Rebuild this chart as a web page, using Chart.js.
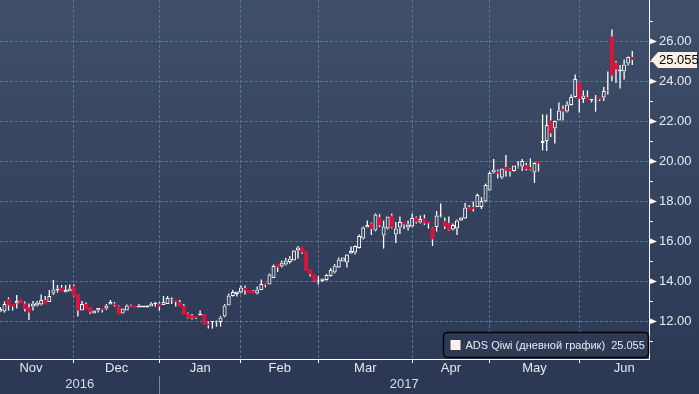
<!DOCTYPE html>
<html lang="ru">
<head>
<meta charset="UTF-8">
<title>ADS Qiwi</title>
<script src="https://cdn.jsdelivr.net/npm/chart.js"></script>
<style>
  html, body { margin: 0; padding: 0; }
  body { width: 699px; height: 394px; overflow: hidden; background: linear-gradient(#3f4e69, #2c3853); }
  canvas { display: block; }
</style>
</head>
<body>
<canvas id="chart" width="699" height="394"></canvas>
<script>
const seriesName = 'ADS Qiwi (дневной график)';

// daily OHLC, Nov 2016 - Jun 2017, one entry per trading day
const openPx = [
  12.48, 12.48, 13.10, 12.85, 12.87, 13.08, 12.88, 12.67, 12.72, 12.78, 12.82, 13.05, 12.95, 13.38, 13.55, 13.67, 13.42, 13.47,
  13.75, 13.35, 12.52, 12.85, 12.70, 12.38, 12.52, 12.65, 12.62, 12.82, 12.88, 12.75, 12.38, 12.53, 12.77, 12.77, 12.67, 12.67, 12.67, 12.73, 12.85,
  12.87, 12.80, 12.85, 13.07, 13.05, 12.95, 12.78, 12.38, 12.28, 12.25, 12.27, 12.35, 11.88, 11.95, 11.92, 11.95, 12.22, 12.78, 13.25, 13.35,
  13.42, 13.65, 13.55, 13.50, 13.38, 13.55, 13.92, 13.82, 14.15, 14.85, 14.72, 14.82, 14.95, 15.02, 15.52, 15.68, 15.50, 14.58, 14.33,
  13.98, 14.00, 14.05, 14.25, 14.43, 14.68, 14.97, 14.92, 15.37, 15.42, 15.65, 16.12, 16.67, 16.88, 16.52, 17.20, 16.28, 16.62, 17.28, 16.33, 16.67, 16.95, 16.67,
  16.72, 17.18, 16.92, 17.13, 16.98, 16.68, 16.70, 17.22, 17.00, 16.90, 16.57, 16.63, 17.03, 17.13, 17.70, 17.70, 17.70, 17.70, 17.97,
  18.53, 19.43, 19.47, 19.17, 19.70, 19.60, 19.50, 19.73, 19.73, 19.80, 19.70, 19.43, 20.00, 20.90, 21.00, 22.03, 21.63, 22.03, 22.60, 22.47, 22.80, 23.20,
  23.93, 23.10, 23.20, 23.03, 22.98, 23.20, 23.17, 23.53, 26.23, 24.93, 24.50, 24.47, 24.87, 25.20
];
const highPx = [
  12.70, 12.98, 13.18, 12.85, 13.30, 13.08, 12.97, 12.88, 13.00, 13.00, 13.33, 13.25, 13.55, 14.05, 13.80, 13.80, 13.80, 13.83,
  13.83, 13.35, 13.00, 12.92, 12.70, 12.52, 12.65, 12.65, 12.85, 13.05, 12.95, 12.78, 12.62, 12.82, 12.82, 12.77, 12.85, 12.77, 12.80, 12.95, 12.95,
  12.95, 13.25, 13.25, 13.18, 13.05, 13.05, 12.85, 12.42, 12.35, 12.25, 12.52, 12.35, 11.98, 11.99, 12.02, 12.25, 12.85, 13.38, 13.55, 13.48,
  13.78, 13.78, 13.55, 13.55, 13.72, 14.08, 13.92, 14.38, 14.82, 14.85, 15.02, 15.15, 15.25, 15.55, 15.75, 15.68, 15.50, 14.58, 14.33,
  14.25, 14.13, 14.35, 14.65, 14.85, 15.18, 15.18, 15.35, 15.72, 15.78, 16.32, 16.72, 17.02, 16.92, 17.38, 17.35, 17.02, 17.22, 17.38, 16.95, 17.22, 16.95, 17.02,
  17.38, 17.22, 17.28, 17.32, 16.98, 16.70, 17.50, 17.88, 17.17, 17.23, 16.87, 17.07, 17.20, 17.90, 17.80, 17.97, 18.37, 18.20, 18.87,
  19.47, 20.10, 19.57, 19.63, 20.30, 19.63, 19.77, 20.00, 20.10, 19.90, 20.13, 19.93, 20.00, 22.33, 22.33, 22.63, 22.03, 22.93, 22.77, 22.97, 23.33, 24.33,
  23.93, 23.53, 23.53, 23.10, 23.30, 23.20, 23.70, 24.47, 26.57, 25.00, 24.80, 25.07, 25.23, 25.50
];
const lowPx = [
  12.45, 12.42, 12.52, 12.52, 12.63, 12.88, 12.47, 12.05, 12.52, 12.72, 12.78, 12.82, 12.95, 13.30, 13.42, 13.47, 13.42, 13.47,
  13.22, 12.22, 12.52, 12.58, 12.35, 12.38, 12.42, 12.43, 12.55, 12.82, 12.72, 12.32, 12.38, 12.53, 12.67, 12.67, 12.67, 12.67, 12.67, 12.73, 12.73,
  12.52, 12.80, 12.85, 12.85, 12.72, 12.72, 12.32, 12.12, 12.08, 12.10, 12.27, 11.82, 11.62, 11.62, 11.72, 11.72, 12.18, 12.78, 13.22, 13.22,
  13.38, 13.32, 13.38, 13.37, 13.32, 13.55, 13.68, 13.82, 14.15, 14.45, 14.68, 14.78, 14.88, 15.02, 15.12, 15.35, 14.52, 14.22, 13.95,
  13.82, 13.95, 14.02, 14.22, 14.38, 14.65, 14.97, 14.68, 15.35, 15.32, 15.62, 16.08, 16.67, 16.30, 16.48, 16.70, 15.62, 16.58, 16.62, 15.90, 16.35, 16.60, 16.52,
  16.68, 16.88, 16.88, 16.80, 16.62, 15.75, 16.47, 17.17, 16.60, 16.50, 16.53, 16.30, 17.00, 17.10, 17.53, 17.47, 17.70, 17.60, 17.93,
  18.53, 19.37, 19.13, 19.10, 19.23, 19.23, 19.47, 19.63, 19.50, 19.53, 19.53, 18.90, 19.47, 20.53, 20.50, 21.20, 20.87, 22.03, 22.03, 22.43, 22.77, 23.17,
  22.43, 22.90, 23.03, 22.93, 22.47, 23.00, 23.00, 23.33, 24.00, 23.90, 23.63, 24.07, 24.77, 24.80
];
const closePx = [
  12.60, 12.85, 12.78, 12.72, 13.00, 12.88, 12.60, 12.43, 12.88, 12.92, 13.05, 12.82, 13.25, 13.58, 13.63, 13.47, 13.55, 13.63,
  13.25, 12.52, 12.85, 12.58, 12.42, 12.52, 12.65, 12.55, 12.77, 12.95, 12.78, 12.32, 12.62, 12.77, 12.67, 12.67, 12.77, 12.77, 12.77, 12.87, 12.87,
  12.72, 12.95, 13.15, 13.10, 12.95, 12.72, 12.32, 12.15, 12.12, 12.15, 12.37, 11.82, 11.78, 11.98, 11.95, 12.18, 12.78, 13.28, 13.45, 13.48,
  13.68, 13.52, 13.38, 13.37, 13.58, 13.85, 13.82, 14.32, 14.75, 14.68, 14.92, 15.02, 15.12, 15.52, 15.68, 15.42, 14.52, 14.32, 13.98,
  14.00, 14.13, 14.30, 14.55, 14.77, 15.08, 15.18, 15.32, 15.50, 15.75, 16.25, 16.68, 16.80, 16.60, 17.32, 16.78, 16.72, 17.22, 16.67, 16.63, 16.95, 16.82, 16.82,
  17.15, 16.95, 17.10, 16.88, 16.88, 16.08, 17.27, 17.25, 16.73, 16.53, 16.80, 17.03, 17.17, 17.67, 17.53, 17.60, 18.30, 18.00, 18.80,
  19.40, 19.57, 19.37, 19.63, 19.53, 19.47, 19.77, 19.67, 20.00, 19.60, 19.57, 19.90, 19.87, 21.00, 21.80, 21.37, 22.00, 22.53, 22.47, 22.83, 23.20, 24.10,
  23.10, 23.27, 23.03, 23.10, 22.99, 23.07, 23.50, 23.50, 24.27, 24.57, 24.57, 24.83, 25.20, 25.055
];

// month axis: index of first trading day of each month (Nov / Jun ends run past the view)
const monthLabels = ['Nov', 'Dec', 'Jan', 'Feb', 'Mar', 'Apr', 'May', 'Jun'];
const monthStarts = [-3, 18, 39, 59, 78, 101, 120, 142, 164];
const yearLabels = ['2016', '2017'];
const yearBreak = 39;
const priceTicks = [11, 12, 13, 14, 15, 16, 17, 18, 19, 20, 21, 22, 23, 24, 25, 26, 27];

const xMin = -0.1, xMax = 159.1;
const yMin = 10.1, yMax = 28.05;

const RED = '#dc143c';
const WHITE = '#ffffff';
const GRID = '#58768f';
const FONT = "'Liberation Sans', Arial, sans-serif";

const idx = openPx.map((_, i) => i);
const isUp = i => closePx[i] >= openPx[i];
const lastClose = closePx[closePx.length - 1];

const boundaries = monthStarts.slice(1, -1);
const monthMids = monthLabels.map((_, k) => (monthStarts[k] + monthStarts[k + 1]) / 2);
const xTickVals = boundaries.concat(monthMids).sort((a, b) => a - b);
const yearMids = [(xMin + yearBreak) / 2, (yearBreak + xMax) / 2];

const bodies = idx.map(i => ({ x: i, y: [openPx[i], closePx[i]] }));
const upperWicks = idx.map(i => ({ x: i, y: [Math.max(openPx[i], closePx[i]), highPx[i]] }));
const lowerWicks = idx.map(i => ({ x: i, y: [lowPx[i], Math.min(openPx[i], closePx[i])] }));

const wickStyle = {
    backgroundColor: WHITE,
    borderWidth: 0,
    barThickness: 1.3,
    grouped: false,
    inflateAmount: 0,
    minBarLength: 0
};

const decorations = {
    id: 'decorations',
    afterDraw(chart) {
        const ctx = chart.ctx;
        const ys = chart.scales.y;
        const xs = chart.scales.x;
        const area = chart.chartArea;
        ctx.save();

        // right axis markers
        ctx.fillStyle = WHITE;
        ctx.strokeStyle = WHITE;
        ctx.lineWidth = 1;
        ys.ticks.forEach(t => {
            const py = ys.getPixelForValue(t.value);
            if (t.value % 2 === 0) {
                ctx.beginPath();
                ctx.moveTo(area.right, py - 3);
                ctx.lineTo(area.right + 8, py + 0.5);
                ctx.lineTo(area.right, py + 3.5);
                ctx.closePath();
                ctx.fill();
            } else {
                const p = Math.round(py) + 0.5;
                ctx.beginPath();
                ctx.moveTo(area.right, p);
                ctx.lineTo(area.right + 4, p);
                ctx.stroke();
            }
        });

        // last price tag
        const ty = ys.getPixelForValue(lastClose);
        ctx.fillStyle = '#fcefe3';
        ctx.beginPath();
        ctx.moveTo(area.right + 2, ty);
        ctx.lineTo(area.right + 9, ty - 8);
        ctx.lineTo(area.right + 48, ty - 8);
        ctx.lineTo(area.right + 48, ty + 8);
        ctx.lineTo(area.right + 9, ty + 8);
        ctx.closePath();
        ctx.fill();
        ctx.fillStyle = '#000000';
        ctx.font = '13px ' + FONT;
        ctx.textBaseline = 'middle';
        ctx.textAlign = 'left';
        ctx.fillText(lastClose.toFixed(3), area.right + 10, ty + 1);

        // year separator under the axis
        const sx = Math.round(xs.getPixelForValue(yearBreak)) + 0.5;
        ctx.strokeStyle = '#7f8794';
        ctx.beginPath();
        ctx.moveTo(sx, 376);
        ctx.lineTo(sx, chart.height);
        ctx.stroke();

        // legend box
        const bw = 205, bh = 25;
        const bx = area.right - bw - 0.5, by = area.bottom - bh - 1.5;
        ctx.beginPath();
        ctx.roundRect(bx, by, bw, bh, 4);
        ctx.fillStyle = '#2e3a55';
        ctx.fill();
        ctx.lineWidth = 1.5;
        ctx.strokeStyle = '#000000';
        ctx.stroke();
        ctx.fillStyle = '#fdf0ea';
        ctx.fillRect(bx + 7, by + 7.5, 10, 10);
        ctx.fillStyle = '#e6eaf0';
        ctx.font = '11px ' + FONT;
        ctx.fillText(seriesName + '  ' + lastClose.toFixed(3), bx + 22, by + bh / 2 + 0.5);

        ctx.restore();
    }
};

new Chart(document.getElementById('chart').getContext('2d'), {
    type: 'bar',
    data: {
        datasets: [
            Object.assign({ label: 'upper', data: upperWicks }, wickStyle),
            Object.assign({ label: 'lower', data: lowerWicks }, wickStyle),
            {
                label: seriesName,
                data: bodies,
                backgroundColor: idx.map(i => isUp(i) ? 'rgba(0,0,0,0)' : RED),
                borderColor: idx.map(i => isUp(i) ? WHITE : RED),
                borderWidth: idx.map(i => isUp(i) ? 1 : 0),
                borderSkipped: false,
                barThickness: 4,
                grouped: false,
                inflateAmount: 0,
                minBarLength: 1
            }
        ]
    },
    options: {
        responsive: false,
        animation: false,
        layout: { padding: 0 },
        plugins: { legend: { display: false }, tooltip: { enabled: false } },
        scales: {
            x: {
                type: 'linear',
                position: 'bottom',
                offset: false,
                min: xMin,
                max: xMax,
                afterBuildTicks: s => { s.ticks = xTickVals.map(v => ({ value: v })); },
                afterFit: s => { s.height = 20; },
                ticks: {
                    autoSkip: false,
                    maxRotation: 0,
                    padding: -2,
                    color: '#e3e9ef',
                    font: { family: FONT, size: 13 },
                    callback: v => {
                        const k = monthMids.indexOf(v);
                        return k >= 0 ? monthLabels[k] : '';
                    }
                },
                grid: {
                    offset: false,
                    color: c => (c.tick && boundaries.includes(c.tick.value)) ? GRID : 'rgba(0,0,0,0)',
                    tickColor: c => (c.tick && boundaries.includes(c.tick.value)) ? WHITE : 'rgba(0,0,0,0)',
                    tickLength: 4,
                    drawTicks: true
                },
                border: { display: true, color: WHITE, width: 1, dash: [3, 2] }
            },
            x2: {
                type: 'linear',
                position: 'bottom',
                offset: false,
                min: xMin,
                max: xMax,
                afterBuildTicks: s => { s.ticks = yearMids.map(v => ({ value: v })); },
                afterFit: s => { s.height = 15; },
                ticks: {
                    autoSkip: false,
                    maxRotation: 0,
                    padding: -2,
                    color: '#d9dfe7',
                    font: { family: FONT, size: 13 },
                    callback: (v, k) => yearLabels[k]
                },
                grid: { display: false, drawTicks: false, offset: false },
                border: { display: false }
            },
            y: {
                position: 'right',
                min: yMin,
                max: yMax,
                afterBuildTicks: s => { s.ticks = priceTicks.map(v => ({ value: v })); },
                afterFit: s => { s.width = 50; s.paddingTop = 0; s.paddingBottom = 0; },
                ticks: {
                    padding: 2,
                    color: '#e6eaf0',
                    font: { family: FONT, size: 13 },
                    callback: v => v % 2 === 0 ? v.toFixed(2) : ''
                },
                grid: {
                    color: c => (c.tick && c.tick.value % 2 === 0) ? GRID : 'rgba(0,0,0,0)',
                    tickColor: 'rgba(0,0,0,0)',
                    tickLength: 8
                },
                border: { display: true, color: WHITE, width: 1, dash: [3, 2] }
            }
        }
    },
    plugins: [decorations]
});
</script>
</body>
</html>
